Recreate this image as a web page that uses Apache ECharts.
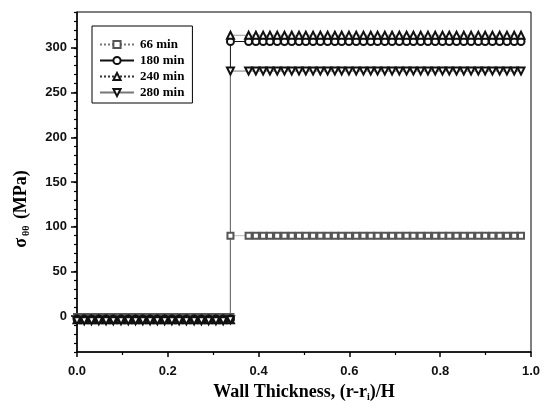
<!DOCTYPE html>
<html>
<head>
<meta charset="utf-8">
<script src="https://cdn.jsdelivr.net/npm/echarts@6/dist/echarts.min.js"></script>
<style>
  html, body { margin: 0; padding: 0; background: #fff; }
  #chart { width: 544px; height: 403px; }
</style>
</head>
<body>
<div id="chart"></div>
<script>
// Radial positions (normalised wall thickness) of the computed nodes
const xInner = [0, 0.016, 0.032, 0.048, 0.064, 0.080, 0.097, 0.113, 0.129, 0.145, 0.161,
  0.177, 0.193, 0.209, 0.225, 0.241, 0.258, 0.274, 0.290, 0.306, 0.322, 0.338];
const xOuter = [0.338, 0.378, 0.394, 0.410, 0.425, 0.441, 0.457, 0.473, 0.489, 0.504, 0.520,
  0.536, 0.552, 0.568, 0.583, 0.599, 0.615, 0.631, 0.647, 0.662, 0.678, 0.694, 0.710, 0.726,
  0.741, 0.757, 0.773, 0.789, 0.805, 0.820, 0.836, 0.852, 0.868, 0.884, 0.899, 0.915, 0.931,
  0.947, 0.963, 0.978];

// Hoop stress (MPa) in the inner layer
const s66Inner  = [-1, -1, -1, -1, -1, -1, -1, -1, -1, -1, -1, -1, -1, -1, -1, -1, -1, -1, -1, -1, -1, -1];
const s180Inner = [-3, -3, -3, -3, -3, -3, -3, -3, -3, -3, -3, -3, -3, -3, -3, -3, -3, -3, -3, -3, -3, -3];
const s240Inner = [-4, -4, -4, -4, -4, -4, -4, -4, -4, -4, -4, -4, -4, -4, -4, -4, -4, -4, -4, -4, -4, -4];
const s280Inner = [-5, -5, -5, -5, -5, -5, -5, -5, -5, -5, -5, -5, -5, -5, -5, -5, -5, -5, -5, -5, -5, -4];

// Hoop stress (MPa) in the outer layer
const s66Outer  = [90, 90, 90, 90, 90, 90, 90, 90, 90, 90, 90, 90, 90, 90, 90, 90, 90, 90, 90, 90,
  90, 90, 90, 90, 90, 90, 90, 90, 90, 90, 90, 90, 90, 90, 90, 90, 90, 90, 90, 90];
const s180Outer = [307, 307, 307, 307, 307, 307, 307, 307, 307, 307, 307, 307, 307, 307, 307, 307, 307, 307, 307, 307,
  307, 307, 307, 307, 307, 307, 307, 307, 307, 307, 307, 307, 307, 307, 307, 307, 307, 307, 307, 307];
const s240Outer = [314, 314, 314, 314, 314, 314, 314, 314, 314, 314, 314, 314, 314, 314, 314, 314, 314, 314, 314, 314,
  314, 314, 314, 314, 314, 314, 314, 314, 314, 314, 314, 314, 314, 314, 314, 314, 314, 314, 314, 314];
const s280Outer = [274, 274, 274, 274, 274, 274, 274, 274, 274, 274, 274, 274, 274, 274, 274, 274, 274, 274, 274, 274,
  274, 274, 274, 274, 274, 274, 274, 274, 274, 274, 274, 274, 274, 274, 274, 274, 274, 274, 274, 274];

const seriesNames = ['66 min', '180 min', '240 min', '280 min'];
const yTickValues = [0, 50, 100, 150, 200, 250, 300];

function pairs(xs, ys) { return xs.map((x, i) => [x, ys[i]]); }

const curves = [
  { name: seriesNames[0], inner: s66Inner,  outer: s66Outer,  symbol: 'emptyRect', rot: 0, size: 6,
    color: '#555', line: { type: 'dotted', width: 1, color: '#777' } },
  { name: seriesNames[1], inner: s180Inner, outer: s180Outer, symbol: 'emptyCircle', rot: 0, size: 7,
    color: '#111', line: { type: 'solid', width: 1, color: '#111' } },
  { name: seriesNames[2], inner: s240Inner, outer: s240Outer, symbol: 'emptyTriangle', rot: 0, size: 7,
    color: '#111', line: { type: 'dotted', width: 1, color: '#333' } },
  { name: seriesNames[3], inner: s280Inner, outer: s280Outer, symbol: 'emptyTriangle', rot: 180, size: 7,
    color: '#111', line: { type: 'solid', width: 1, color: '#777' } }
];

const chart = echarts.init(document.getElementById('chart'), null, { renderer: 'canvas' });

const serif = '"Liberation Serif", "DejaVu Serif", serif';
const sans = '"Liberation Sans", Arial, sans-serif';

chart.setOption({
  animation: false,
  backgroundColor: '#fff',
  grid: { left: 77, right: 13, top: 12, bottom: 51, outerBoundsMode: 'none', containLabel: false,
    show: true, borderColor: '#000', borderWidth: 1 },
  legend: {
    orient: 'vertical',
    left: 92, top: 26,
    padding: [12, 8, 4, 7],
    borderColor: '#000', borderWidth: 1,
    itemWidth: 34, itemHeight: 9, itemGap: 3,
    textStyle: { fontFamily: serif, fontWeight: 'bold', fontSize: 13, color: '#000', padding: [0, 0, 0, 1] },
    data: seriesNames
  },
  xAxis: {
    type: 'value', min: 0, max: 1, interval: 0.2,
    axisLine: { onZero: false, lineStyle: { color: '#000', width: 1.5 } },
    axisTick: { inside: false, length: 5, lineStyle: { color: '#000', width: 1.5 } },
    minorTick: { show: true, splitNumber: 2, length: 3, lineStyle: { color: '#000', width: 1.2 } },
    splitLine: { show: false },
    axisLabel: { margin: 13, fontFamily: sans, fontWeight: 'bold', fontSize: 13, color: '#111',
      formatter: v => v.toFixed(1) }
  },
  yAxis: [
    {
      type: 'value', min: -40, max: 340, interval: 10,
      axisLine: { onZero: false, lineStyle: { color: '#000', width: 1.5 } },
      axisTick: { inside: false, length: 3, lineStyle: { color: '#000', width: 1.2 } },
      splitLine: { show: false },
      axisLabel: { show: false }
    },
    {
      type: 'value', min: -40, max: 340, position: 'left',
      axisLine: { show: false },
      axisTick: { show: true, inside: false, length: 6, customValues: yTickValues, lineStyle: { color: '#000', width: 1.5 } },
      splitLine: { show: false },
      axisLabel: { show: true, margin: 10, customValues: yTickValues, fontFamily: sans, fontWeight: 'bold', fontSize: 13, color: '#111' }
    }
  ],
  graphic: [
    {
      // y-axis title, rotated to read bottom-to-top
      type: 'text',
      x: 21, y: 209, rotation: Math.PI / 2,
      style: {
        text: '{g|σ}{s|θθ}{b| (MPa)}',
        align: 'center', verticalAlign: 'middle',
        rich: {
          g: { fontFamily: serif, fontWeight: 'bold', fontSize: 18, fill: '#000', lineHeight: 20 },
          s: { fontFamily: serif, fontWeight: 'bold', fontSize: 10, fill: '#000', verticalAlign: 'bottom', lineHeight: 14, padding: [7, 2, 0, 2] },
          b: { fontFamily: serif, fontWeight: 'bold', fontSize: 18, fill: '#000', lineHeight: 20 }
        }
      }
    },
    {
      // x-axis title
      type: 'text',
      x: 304, y: 392,
      style: {
        text: '{b|Wall Thickness, (r-r}{s|i}{b|)/H}',
        align: 'center', verticalAlign: 'middle',
        rich: {
          b: { fontFamily: serif, fontWeight: 'bold', fontSize: 18, fill: '#000', lineHeight: 20 },
          s: { fontFamily: serif, fontWeight: 'bold', fontSize: 10, fill: '#000', verticalAlign: 'bottom', lineHeight: 14, padding: [7, 0, 0, 0] }
        }
      }
    }
  ],
  series: curves.map(c => ({
    name: c.name,
    type: 'line',
    xAxisIndex: 0, yAxisIndex: 0,
    data: pairs(xInner, c.inner).concat(pairs(xOuter, c.outer)),
    symbol: c.symbol,
    symbolRotate: c.rot,
    symbolSize: c.size,
    showAllSymbol: true,
    itemStyle: { color: c.color, borderColor: c.color, borderWidth: 1 },
    lineStyle: c.line,
    emphasis: { disabled: true }
  }))
});
</script>
</body>
</html>
